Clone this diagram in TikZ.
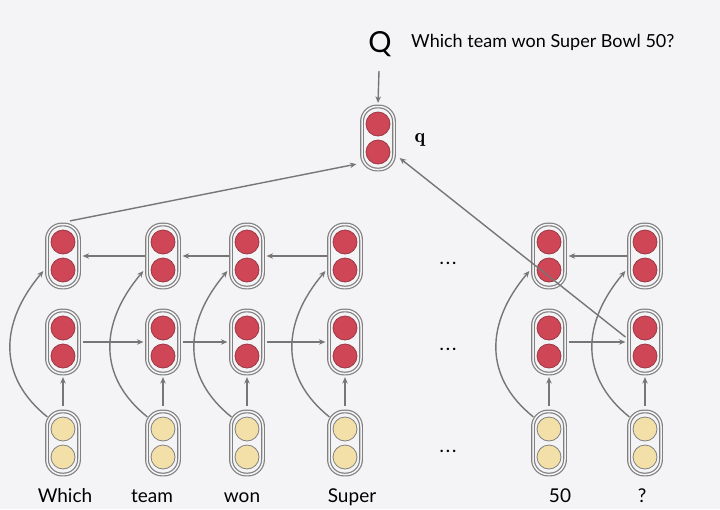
\documentclass[tikz,border=0pt]{standalone}
\usepackage{fontspec}
\newfontfamily\lato{Lato}
\usetikzlibrary{arrows.meta,calc}
\definecolor{bg}{HTML}{F4F4F6}
\definecolor{boxgray}{HTML}{808080}
\definecolor{cellred}{HTML}{CF4656}
\definecolor{cellredline}{HTML}{9A3A44}
\definecolor{cellyel}{HTML}{F3DFA8}
\definecolor{arrgray}{HTML}{767676}
\tikzset{
  box/.style={draw=boxgray, line width=1.2pt, double=bg, double distance=1.5pt,
    rounded corners=15pt, minimum width=32pt, minimum height=63pt, inner sep=0pt},
  dotc/.style={circle, minimum size=24pt, inner sep=0pt, line width=0.8pt},
  redc/.style={dotc, fill=cellred, draw=cellredline},
  yelc/.style={dotc, fill=cellyel, draw=boxgray},
  arr/.style={draw=arrgray, line width=1.4pt, -{Stealth[length=6.5pt,width=5.5pt]}},
  word/.style={font=\lato\fontsize{19}{19}\selectfont, anchor=base, inner sep=0pt},
  ell/.style={font=\lato\bfseries\fontsize{16}{16}\selectfont, anchor=base, inner sep=0pt}
}
\newcommand\cellnode[4]{%
  \node[box] (#1) at (#2,#3) {};
  \node[#4] (#1u) at (#2,#3-14) {};
  \node[#4] (#1l) at (#2,#3+14) {};
}
\newcommand\mydots{.\kern2.5pt.\kern2.5pt.}
\begin{document}
\begin{tikzpicture}[x=1pt,y=-1pt]
\fill[bg] (0,0) rectangle (720,509);
\useasboundingbox (0,0) rectangle (720,509);

% columns
\foreach \i/\x in {1/63,2/163,3/247,4/345,5/549,6/645}{
  \cellnode{t\i}{\x}{256}{redc}
  \cellnode{m\i}{\x}{342}{redc}
  \cellnode{b\i}{\x}{443}{yelc}
}
\cellnode{qv}{378}{138}{redc}

% texts
\node[font=\lato\fontsize{29}{29}\selectfont, anchor=base, inner sep=0pt] (Q) at (380,52) {Q};
\node[font=\lato\fontsize{18}{18}\selectfont, anchor=base west, inner sep=0pt] (qtext) at (411,47) {Which team won Super Bowl 50?};
\node[font=\fontsize{20}{20}\selectfont, inner sep=0pt] (qlab) at (420,140) {$\mathbf{q}$};
\coordinate (Qb) at (379,71);

\node[word] (w1) at (65,502) {Which};
\node[word] (w2) at (152,502) {team};
\node[word] (w3) at (242,502) {won};
\node[word] (w4) at (352,502) {Super};
\node[word] (w5) at (560,502) {50};
\node[word] (w6) at (642,502) {?};

\node[ell] (d1) at (448,264) {\mydots};
\node[ell] (d2) at (448,350) {\mydots};
\node[ell] (d3) at (448,452) {\mydots};

% arrows
\draw[arr] (Qb) -- ([yshift=3pt]qv.north);
\foreach \a/\b in {2/1,3/2,4/3,6/5}{
  \draw[arr, shorten >=3pt, shorten <=1pt] (t\a) -- (t\b);
}
\foreach \a/\b in {1/2,2/3,3/4,5/6}{
  \draw[arr, shorten >=3pt, shorten <=3pt] (m\a) -- (m\b);
}
\foreach \i in {1,...,6}{
  \draw[arr, shorten >=3pt, shorten <=5pt] (b\i) -- (m\i);
  \draw[arr] ([shift={(1,6)}]b\i.north west) .. controls +(-50,-40) and +(-44,52) .. ([shift={(-3,15)}]t\i.west);
}
\draw[arr] ([shift={(7,-3)}]t1.north) -- ([shift={(-5,-6)}]qv.south west);
\draw[arr] ([shift={(-3,-5)}]m6.west) -- ([shift={(5,20)}]qv.east);
\end{tikzpicture}
\end{document}
